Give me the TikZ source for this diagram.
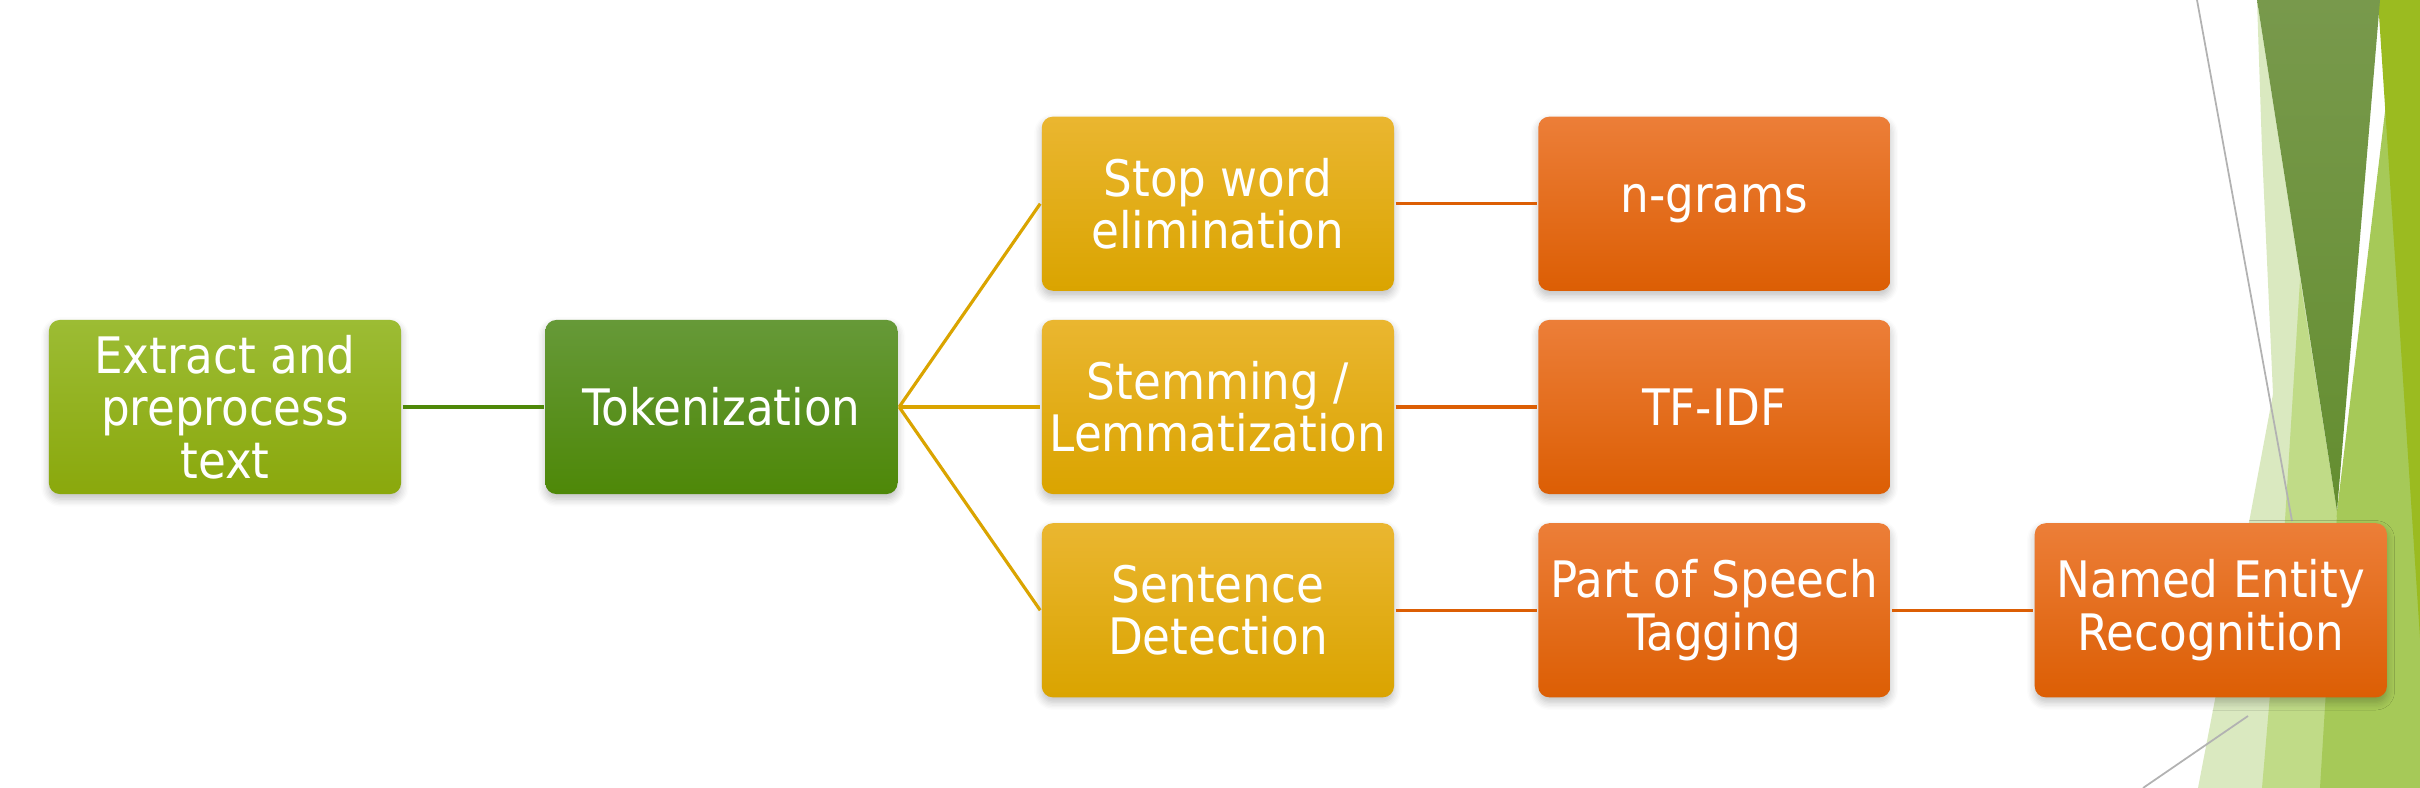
\documentclass[tikz,border=0pt]{standalone}
\usepackage{fontspec}
\setmainfont{DejaVu Sans Condensed}
\usetikzlibrary{positioning, shadows.blur}

\definecolor{extractTop}{RGB}{156,188,52}
\definecolor{extractBot}{RGB}{138,168,12}
\definecolor{tokTop}{RGB}{102,153,56}
\definecolor{tokBot}{RGB}{78,136,8}
\definecolor{yellowTop}{RGB}{234,182,48}
\definecolor{yellowBot}{RGB}{218,164,0}
\definecolor{orangeTop}{RGB}{236,126,56}
\definecolor{orangeBot}{RGB}{220,94,4}
\definecolor{facetPale}{RGB}{218,233,192}
\definecolor{facetLight}{RGB}{192,219,135}
\definecolor{facetMid}{RGB}{166,201,88}
\definecolor{facetBright}{RGB}{155,187,32}
\definecolor{facetDarkTop}{RGB}{120,153,76}
\definecolor{facetDarkBot}{RGB}{100,142,48}

\begin{document}
\begin{tikzpicture}
            [x=0.01cm, y=0.01cm, node distance=0.26cm and 1.41cm, line width=0.9pt,
            stage/.style={rectangle, rounded corners=0.11cm, minimum width=3.52cm, minimum height=1.74cm,
                inner xsep=1pt, align=center, text=white, font=\fontsize{14.3}{14.9}\selectfont,
                blur shadow={shadow xshift=0pt, shadow yshift=-0.05cm, shadow blur steps=6, shadow opacity=25}},
            extractstage/.style={stage, top color=extractTop, bottom color=extractBot},
            tokstage/.style={stage, top color=tokTop, bottom color=tokBot},
            prepstage/.style={stage, top color=yellowTop, bottom color=yellowBot},
            featstage/.style={stage, top color=orangeTop, bottom color=orangeBot}]
            \useasboundingbox (0,0) rectangle (2420,788);

            % facet decoration on the right
            \fill[facetPale] (2257,788) -- (2337,277) -- (2320,0) -- (2198,0) -- (2250,271) -- (2273,394) -- (2262,638) -- cycle;
            \fill[facetLight] (2300,508) -- (2337,277) -- (2325,0) -- (2262,0) -- (2285,268) -- cycle;
            \fill[facetMid] (2390,718) -- (2420,758) -- (2420,0) -- (2320,0) -- (2337,277) -- cycle;
            \fill[facetBright] (2378,788) -- (2420,788) -- (2420,150) -- cycle;
            \shade[top color=facetDarkTop, bottom color=facetDarkBot] (2257,788) -- (2380,788) -- (2337,277) -- cycle;
            \draw[gray!60, line width=0.5pt] (2197,788) -- (2292,267);
            \draw[gray!60, line width=0.5pt] (2143,0) -- (2248,72);

            \node[extractstage] (extract) at (225,381) {Extract and\\preprocess\\text};
            \node[tokstage, right=of extract] (tok) {Tokenization};
            \node[prepstage, right=of tok] (stem) {Stemming /\\Lemmatization};
            \node[prepstage, above=of stem] (stop) {Stop word\\elimination};
            \node[prepstage, below=of stem] (sent) {Sentence\\Detection};
            \node[featstage, right=of stop] (ngram) {n-grams};
            \node[featstage, right=of stem] (tfidf) {TF-IDF};
            \node[featstage, right=of sent] (pos) {Part of Speech\\Tagging};
            \node[featstage, right=of pos] (ner) {Named Entity\\Recognition};

            \draw[tokBot] (extract) -- (tok);
            \draw[yellowBot] (tok.east) -- (stop.west);
            \draw[yellowBot] (tok.east) -- (stem.west);
            \draw[yellowBot] (tok.east) -- (sent.west);
            \draw[orangeBot] (stop) -- (ngram);
            \draw[orangeBot] (stem) -- (tfidf);
            \draw[orangeBot] (sent) -- (pos);
            \draw[orangeBot] (pos) -- (ner);
        \end{tikzpicture}
\end{document}
